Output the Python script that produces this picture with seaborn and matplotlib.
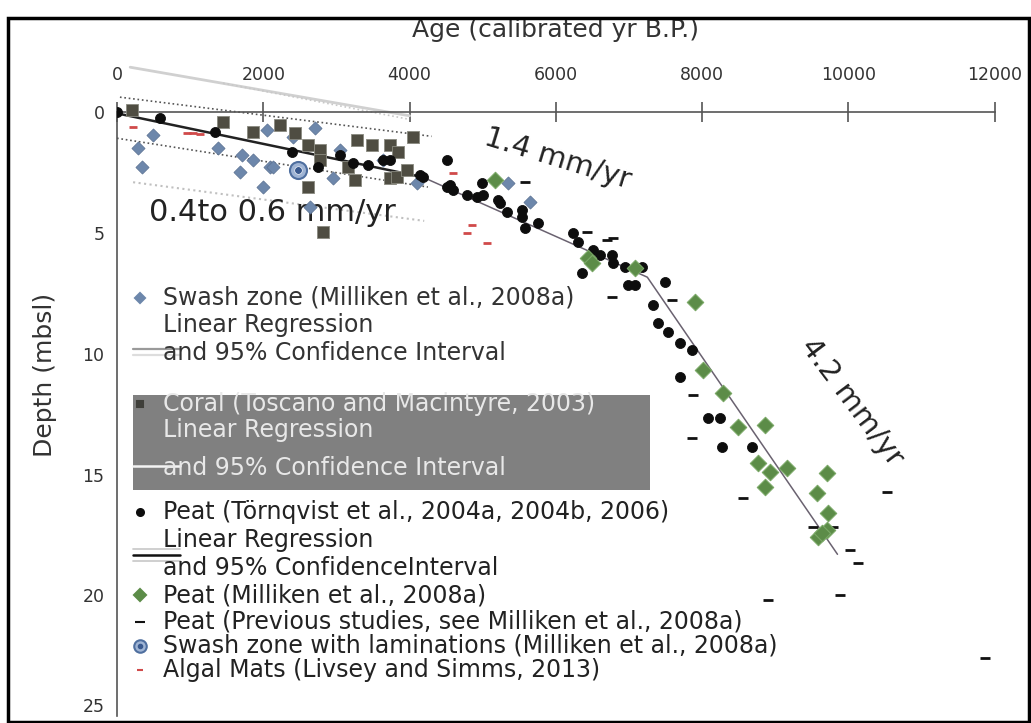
import numpy as np
import pandas as pd
import matplotlib
matplotlib.use('Agg')
import matplotlib.pyplot as plt
import seaborn as sns
from matplotlib.patches import Rectangle
from matplotlib.lines import Line2D

# ---- data (age in cal yr B.P., depth in m) ----
peat_t_age = [0, 590, 1340, 2390, 2750, 3050, 3230, 3430, 3640, 3730, 4140, 4510, 4510,
              4180, 4550, 4590, 4790, 4920, 4990, 5000, 5210, 5240, 5330, 5540, 5540,
              5580, 5760, 6230, 6300, 6510, 6600, 6770, 6780, 6940, 7180, 6360, 6990,
              7080, 7490, 7330, 7400, 7530, 7700, 7860, 7700, 8080, 8240, 8270, 8680]
peat_t_depth = [0.0, 0.25, 0.83, 1.66, 2.28, 1.78, 2.11, 2.19, 1.99, 1.99, 2.61, 1.99, 3.10,
                2.69, 3.02, 3.23, 3.44, 3.52, 2.94, 3.44, 3.64, 3.77, 4.14, 4.06, 4.35,
                4.80, 4.59, 5.01, 5.38, 5.71, 5.92, 5.92, 6.25, 6.42, 6.42, 6.66, 7.16,
                7.16, 7.04, 7.99, 8.73, 9.11, 9.56, 9.85, 10.97, 12.67, 12.67, 13.87, 13.87]

coral_age = [205, 1450, 1860, 2230, 2430, 2610, 2780, 2780, 3280, 3490, 3730, 3840,
             4050, 2610, 3160, 3250, 3730, 3830, 3960, 2820]
coral_depth = [-0.08, 0.41, 0.83, 0.54, 0.87, 1.37, 1.57, 1.99, 1.16, 1.37, 1.37, 1.66,
               1.03, 3.10, 2.28, 2.81, 2.73, 2.69, 2.40, 4.97]

swash_age = [290, 340, 490, 1380, 1710, 1680, 1860, 2090, 2050, 2000, 2410, 2710, 2640,
             2950, 3050, 3640, 4100, 2130, 5350, 5650]
swash_depth = [1.49, 2.28, 0.95, 1.49, 1.78, 2.48, 1.99, 2.28, 0.75, 3.10, 1.03, 0.66, 3.93,
               2.73, 1.57, 1.99, 2.94, 2.28, 2.94, 3.73]

swash_lam_age = [2470]
swash_lam_depth = [2.40]

algal_age = [220, 960, 1040, 1140, 4590, 4850, 4790, 5060]
algal_depth = [0.62, 0.87, 0.87, 0.91, 2.52, 4.68, 5.01, 5.42]

peat_m_age = [5170, 6440, 6490, 7080, 7900, 8010, 8280, 8490, 8860, 8760, 8930, 9160,
              8860, 9710, 9570, 9720, 9710, 9580, 9640]
peat_m_depth = [2.81, 6.04, 6.25, 6.46, 7.86, 10.68, 11.63, 13.04, 12.95, 14.53, 14.90,
                14.73, 15.52, 14.94, 15.77, 16.60, 17.30, 17.59, 17.43]

peat_prev_age = [5580, 6430, 6700, 6780, 6770, 7590, 7870, 7860, 8560, 10530, 9510,
                 9790, 10020, 10130, 9880, 8900, 11870]
peat_prev_depth = [2.90, 4.97, 5.30, 5.21, 7.66, 7.78, 11.71, 13.49, 15.98, 15.73, 17.18,
                   17.18, 18.13, 18.67, 19.99, 20.20, 22.60]

# regression lines and confidence bounds (end points)
peat_fit1_age = [0, 4180]
peat_fit1_depth = [0.05, 2.69]
peat_fit2_age = [4180, 7250, 9850]
peat_fit2_depth = [2.69, 6.83, 18.3]
peat_ci_up_age = [40, 4300]
peat_ci_up_depth = [-0.62, 1.0]
peat_ci_lo_age = [0, 4250]
peat_ci_lo_depth = [1.08, 3.1]
swash_fit_age = [180, 4000]
swash_fit_depth = [-1.86, 0.15]
swash_ci_up_age = [1450, 4000]
swash_ci_up_depth = [-1.2, 0.3]
swash_ci_lo_age = [220, 4200]
swash_ci_lo_depth = [2.9, 4.5]

sns.set_theme(style='white')
plt.rcParams['font.family'] = ['DejaVu Sans']

W, H = 1031, 723
fig = plt.figure(figsize=(W / 100, H / 100), dpi=100)
ax = fig.add_axes([117 / W, 1 - 721 / H, 907 / W, 662 / H])


def fp(px, py):
    # pixel -> figure fraction
    return px / W, 1 - py / H


# lines
line_kw = dict(ax=ax, sort=False, estimator=None, legend=False)
sns.lineplot(x=swash_fit_age, y=swash_fit_depth, color='#d0d0d0', lw=2, **line_kw)
sns.lineplot(x=swash_ci_up_age, y=swash_ci_up_depth, color='#c8c8c8', lw=1.2, ls=':', **line_kw)
sns.lineplot(x=swash_ci_lo_age, y=swash_ci_lo_depth, color='#c0c0c0', lw=1.5, ls=':', **line_kw)
sns.lineplot(x=peat_ci_up_age, y=peat_ci_up_depth, color='#555555', lw=1.2, ls=':', **line_kw)
sns.lineplot(x=peat_ci_lo_age, y=peat_ci_lo_depth, color='#555555', lw=1.2, ls=':', **line_kw)
sns.lineplot(x=peat_fit1_age, y=peat_fit1_depth, color='#222222', lw=1.8, **line_kw)
sns.lineplot(x=peat_fit2_age, y=peat_fit2_depth, color='#6a6270', lw=1.1, **line_kw)

# points
sns.scatterplot(x=peat_prev_age, y=peat_prev_depth, marker='_', s=45, color='#111111',
                linewidth=2, ax=ax, zorder=3)
sns.scatterplot(x=algal_age, y=algal_depth, marker='_', s=30, color='#d04a4a',
                linewidth=2, ax=ax, zorder=3)
sns.scatterplot(x=swash_age, y=swash_depth, marker='D', s=45, color='#6d87ab',
                edgecolor='#5a7090', linewidth=0.5, ax=ax, zorder=4)
sns.scatterplot(x=coral_age, y=coral_depth, marker='s', s=65, color='#4f4d42',
                edgecolor='#8a8a80', linewidth=0.6, ax=ax, zorder=4)
sns.scatterplot(x=peat_t_age, y=peat_t_depth, marker='o', s=52, color='#0d0d0d',
                edgecolor='#0d0d0d', ax=ax, zorder=5)
sns.scatterplot(x=peat_m_age, y=peat_m_depth, marker='D', s=70, color='#5c8c48',
                edgecolor='#7aa866', linewidth=0.8, ax=ax, zorder=5)
sns.scatterplot(x=swash_lam_age, y=swash_lam_depth, marker='o', s=150, color='#9fb4d4',
                edgecolor='#4f6f9f', linewidth=1.5, ax=ax, zorder=6)
sns.scatterplot(x=swash_lam_age, y=swash_lam_depth, marker='o', s=30, color='#3a5a8f',
                ax=ax, zorder=7)

# axes
ax.set_xlim(0, 12400)
ax.set_ylim(25.2, -2.2)
ax.spines['top'].set_position(('data', 0))
ax.spines['top'].set_bounds(0, 12000)
ax.spines['left'].set_position(('data', 0))
ax.spines['left'].set_bounds(0, 25)
ax.spines['right'].set_visible(False)
ax.spines['bottom'].set_visible(False)
for s in ['top', 'left']:
    ax.spines[s].set_color('#555555')
    ax.spines[s].set_linewidth(1.2)
ax.xaxis.tick_top()
ax.set_xticks(range(0, 12001, 2000))
ax.set_yticks(range(0, 26, 5))
ax.tick_params(axis='x', direction='inout', length=14, width=1.2, color='#555555',
               labelsize=12.5, labelcolor='#333333', pad=13)
ax.tick_params(axis='y', direction='inout', length=12, width=1.2, color='#555555',
               labelsize=12.5, labelcolor='#333333', pad=3)
ax.get_yticklabels()[-1].set_va('bottom')
ax.set_xlabel('')
ax.set_ylabel('')
ax.patch.set_alpha(0)

fig.text(*fp(555, 30), 'Age (calibrated yr B.P.)', ha='center', va='center',
         fontsize=18, color='#333333')
fig.text(*fp(45, 375), 'Depth (mbsl)', ha='center', va='center', rotation=90,
         fontsize=18, color='#333333')

# rate annotations
ax.text(2120, 4.14, '0.4to 0.6 mm/yr', ha='center', va='center', fontsize=22, color='#222222')
ax.text(6030, 1.95, '1.4 mm/yr', ha='center', va='center', fontsize=21, rotation=-17,
        rotation_mode='anchor', color='#222222')
ax.text(10050, 12.0, '4.2 mm/yr', ha='center', va='center', fontsize=21, rotation=-53,
        rotation_mode='anchor', color='#222222')

# legend (drawn by hand, as in the original)
fig.patches.append(Rectangle(fp(133, 490), (650 - 133) / W, 95 / H, transform=fig.transFigure,
                             facecolor='#808080', edgecolor='none', zorder=1))
tx = 163
rows = [
    (298, 'Swash zone (Milliken et al., 2008a)', '#333333'),
    (325, 'Linear Regression', '#333333'),
    (353, 'and 95% Confidence Interval', '#333333'),
    (404, 'Coral (Toscano and Macintyre, 2003)', '#e8e8e8'),
    (430, 'Linear Regression', '#e8e8e8'),
    (468, 'and 95% Confidence Interval', '#e8e8e8'),
    (512, 'Peat (Törnqvist et al., 2004a, 2004b, 2006)', '#222222'),
    (540, 'Linear Regression', '#222222'),
    (568, 'and 95% ConfidenceInterval', '#222222'),
    (595, 'Peat (Milliken et al., 2008a)', '#222222'),
    (622, 'Peat (Previous studies, see Milliken et al., 2008a)', '#222222'),
    (646, 'Swash zone with laminations (Milliken et al., 2008a)', '#222222'),
    (670, 'Algal Mats (Livsey and Simms, 2013)', '#222222'),
]
for py, label, col in rows:
    fig.text(*fp(tx, py), label, ha='left', va='center', fontsize=17, color=col, zorder=3)

mx = 140
keys = [
    (298, 'D', 5, '#6d87ab', '#6d87ab'),
    (404, 's', 5, '#3f3f3a', '#3f3f3a'),
    (512, 'o', 5, '#0d0d0d', '#0d0d0d'),
    (595, 'D', 6, '#5c8c48', '#5c8c48'),
    (622, '_', 7, '#111111', '#111111'),
    (646, 'o', 9, '#9fb4d4', '#4f6f9f'),
    (670, '_', 5, '#d04a4a', '#d04a4a'),
]
for py, m, ms, fc, ec in keys:
    fig.lines.append(Line2D([fp(mx, py)[0]], [fp(mx, py)[1]], marker=m, markersize=ms,
                            markerfacecolor=fc, markeredgecolor=ec, markeredgewidth=1.5,
                            linestyle='none', transform=fig.transFigure, zorder=3))
fig.lines.append(Line2D([fp(mx, 646)[0]], [fp(mx, 646)[1]], marker='o', markersize=3,
                        color='#3a5a8f', transform=fig.transFigure, zorder=4))
for py, col, lw in [(349, '#9a9a9a', 1.6), (355, '#dddddd', 1.6), (466, '#f4f4f4', 1.8),
                    (549, '#cccccc', 1.3), (555, '#111111', 1.8), (561, '#cccccc', 1.3)]:
    x0, y0 = fp(133, py)
    x1, _ = fp(180, py)
    fig.lines.append(Line2D([x0, x1], [y0, y0], color=col, lw=lw, transform=fig.transFigure,
                            zorder=3))

# outer frame
fig.patches.append(Rectangle(fp(8, 722), (1029 - 8) / W, (722 - 18) / H, transform=fig.transFigure,
                             fill=False, edgecolor='black', lw=2.5, zorder=10))

fig.savefig('out.png', dpi=100, facecolor='white')
